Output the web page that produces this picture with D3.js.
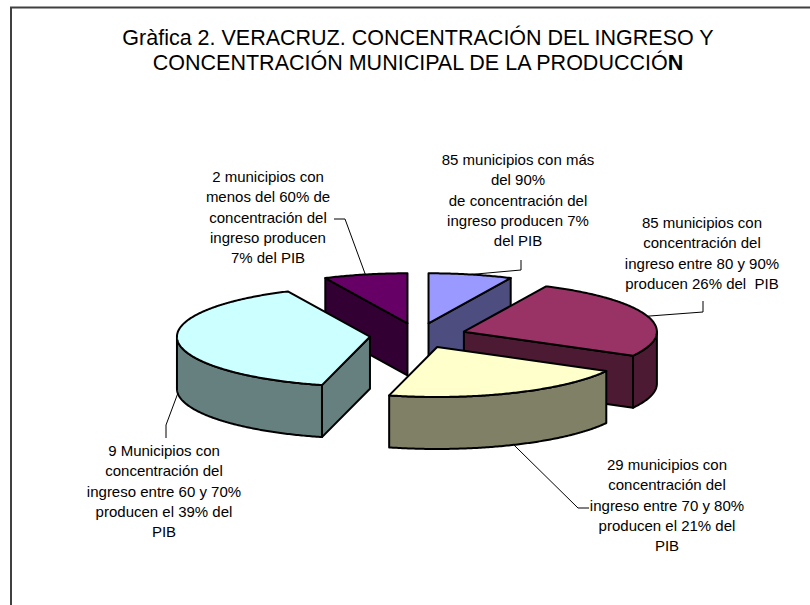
<!DOCTYPE html>
<html>
<head>
<meta charset="utf-8">
<script src="https://cdn.jsdelivr.net/npm/d3@7"></script>
<style>
  body { margin: 0; background: #fff; }
  text { font-family: "Liberation Sans", Arial, sans-serif; fill: #000; white-space: pre; }
</style>
</head>
<body>
<svg id="chart" width="810" height="605"></svg>
<script>
// Data

var titleLines = [
  'Gràfica 2. VERACRUZ. CONCENTRACIÓN DEL INGRESO Y',
  'CONCENTRACIÓN MUNICIPAL DE LA PRODUCCIÓ'
]
var titleBoldTail = 'N'

var groups = ['más del 90%', '80 a 90%', '70 a 80%', '60 a 70%', 'menos del 60%']
var shares = [7, 26, 21, 39, 7]

var labelLines = [
  ['85 municipios con más', 'del 90%', 'de concentración del', 'ingreso producen 7%', 'del PIB'],
  ['85 municipios con', 'concentración del', 'ingreso entre 80 y 90%', 'producen 26% del  PIB'],
  ['29 municipios con', 'concentración del', 'ingreso entre 70 y 80%', 'producen el 21% del', 'PIB'],
  ['9 Municipios con', 'concentración del', 'ingreso entre 60 y 70%', 'producen el 39% del', 'PIB'],
  ['2 municipios con', 'menos del 60% de', 'concentración del', 'ingreso producen', '7% del PIB']
]

// Styles / layout

var topColor = d3.scaleOrdinal().domain(groups)
  .range(['#9999ff', '#993366', '#ffffcc', '#ccffff', '#660066'])
var sideColor = d3.scaleOrdinal().domain(groups)
  .range(['#4d4d80', '#4d1a33', '#808066', '#668080', '#330033'])

var cx = 418, cy = 335.5
var rx = 193, ry = 50, depth = 52
var explode = 0.25
var lineHeight = 20.3

// label centre, first baseline, leader start + elbow
var labelLayout = [
  { x: 518, y: 165, leader: [[521, 260], [521, 270]] },
  { x: 702, y: 228, leader: [[703, 301], [703, 312]] },
  { x: 667, y: 470, leader: [[589, 508], [578, 508]] },
  { x: 164, y: 456, leader: [[166, 438], [166, 425]] },
  { x: 268, y: 182, leader: [[334, 219], [345, 219]] }
]

var svg = d3.select('#chart')

// chart area border (left + top only visible)
svg.append('path')
  .attr('d', 'M11,620 V7.5 H820')
  .attr('fill', 'none')
  .attr('stroke', '#404040')
  .attr('stroke-width', 2)

// Title
var title = svg.append('text')
  .attr('text-anchor', 'middle')
  .attr('font-size', 21.5)
title.append('tspan').attr('x', 418).attr('y', 45).text(titleLines[0])
var t2 = title.append('tspan').attr('x', 418).attr('y', 69.5)
t2.append('tspan').text(titleLines[1])
t2.append('tspan').attr('font-weight', 'bold').text(titleBoldTail)

// Pie geometry
var pie = d3.pie().sort(null).value(d => d.value)
  .startAngle(0).endAngle(2 * Math.PI)

var slices = pie(groups.map((g, i) => ({ key: g, value: shares[i], idx: i })))

slices.forEach(function(s) {
  var mid = (s.startAngle + s.endAngle) / 2
  s.mid = mid
  s.apex = [cx + explode * rx * Math.sin(mid), cy - explode * ry * Math.cos(mid)]
})

function pt(s, a, dy) {
  return [s.apex[0] + rx * Math.sin(a), s.apex[1] - ry * Math.cos(a) + (dy || 0)]
}

function arcPts(s, a0, a1, dy) {
  var n = Math.max(2, Math.ceil(Math.abs(a1 - a0) / 0.01))
  return d3.range(n + 1).map(i => pt(s, a0 + (a1 - a0) * i / n, dy))
}

var line = d3.line()
function poly(pts) { return line(pts) + 'Z' }

var order = slices.slice().sort((a, b) => a.apex[1] - b.apex[1])

var pieG = svg.append('g')

order.forEach(function(s) {
  var g = pieG.append('g')
  var a0 = s.startAngle, a1 = s.endAngle
  var apexB = [s.apex[0], s.apex[1] + depth]

  var faces = []
  // start wall
  if (Math.sin(a0) < -1e-6) {
    faces.push([s.apex, pt(s, a0), pt(s, a0, depth), apexB])
  }
  // end wall
  if (Math.sin(a1) > 1e-6) {
    faces.push([s.apex, pt(s, a1), pt(s, a1, depth), apexB])
  }
  // outer curved wall
  var os = Math.max(a0, Math.PI / 2), oe = Math.min(a1, 3 * Math.PI / 2)
  if (os < oe) {
    faces.push(arcPts(s, os, oe, 0).concat(arcPts(s, oe, os, depth)))
  }

  faces.forEach(function(f) {
    g.append('path')
      .attr('d', poly(f))
      .attr('fill', sideColor(s.data.key))
      .attr('stroke', '#000')
      .attr('stroke-width', 2)
      .attr('stroke-linejoin', 'round')
  })

  // top face
  g.append('path')
    .attr('d', poly([s.apex].concat(arcPts(s, a0, a1, 0))))
    .attr('fill', topColor(s.data.key))
    .attr('stroke', '#000')
    .attr('stroke-width', 2)
    .attr('stroke-linejoin', 'round')
})

// Labels and leader lines
slices.forEach(function(s, i) {
  var lay = labelLayout[i]
  var front = Math.cos(s.mid) < 0
  var end = pt(s, s.mid, front ? depth : 0)

  svg.append('path')
    .attr('d', d3.line()(lay.leader.concat([end])))
    .attr('fill', 'none')
    .attr('stroke', '#000')
    .attr('stroke-width', 1)

  var txt = svg.append('text')
    .attr('text-anchor', 'middle')
    .attr('font-size', 15)
  txt.selectAll('tspan')
    .data(labelLines[i])
    .enter()
    .append('tspan')
    .attr('x', lay.x)
    .attr('y', (d, j) => lay.y + j * lineHeight)
    .text(d => d)
})
</script>
</body>
</html>
